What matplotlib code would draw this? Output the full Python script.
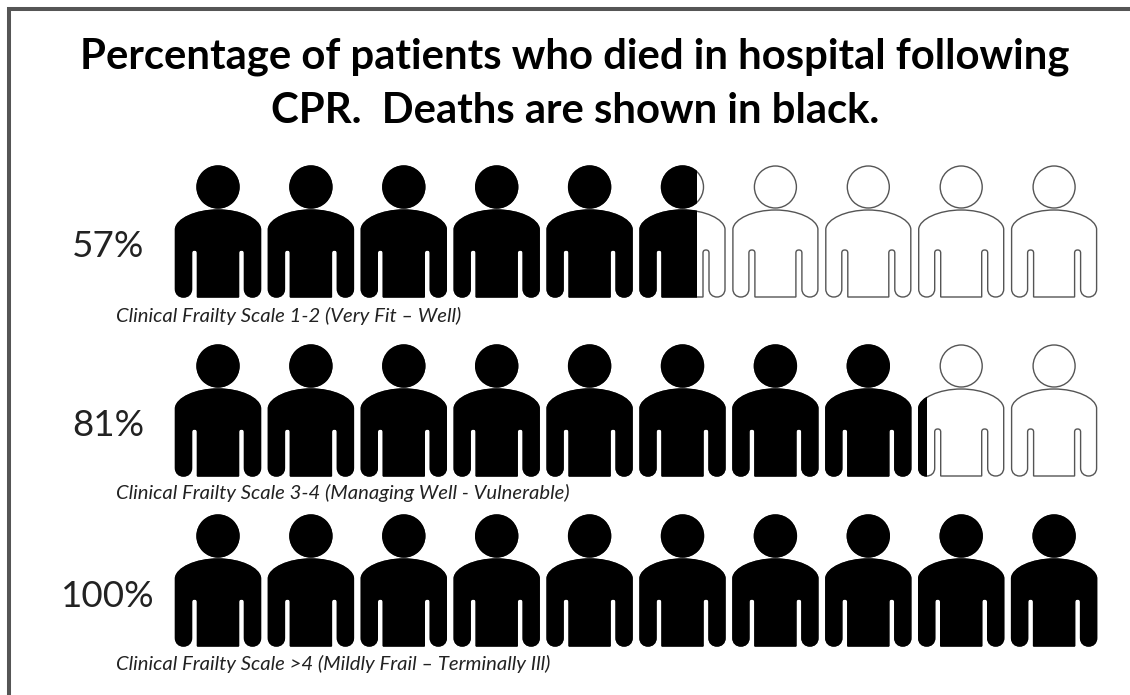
import numpy as np
import matplotlib
matplotlib.use("Agg")
import matplotlib.pyplot as plt
from matplotlib.path import Path
from matplotlib.patches import PathPatch, Circle, Rectangle

title_lines = ["Percentage of patients who died in hospital following",
               "CPR.  Deaths are shown in black."]
pct_labels = ["57%", "81%", "100%"]
filled_people = [5.67, 8.10, 10.0]
scale_labels = ["Clinical Frailty Scale 1-2 (Very Fit \u2013 Well)",
                "Clinical Frailty Scale 3-4 (Managing Well - Vulnerable)",
                "Clinical Frailty Scale >4 (Mildly Frail \u2013 Terminally Ill)"]
n_people = 10

W, H = 1130, 695
fig = plt.figure(figsize=(W/100, H/100), dpi=100, facecolor="white")
ax = fig.add_axes([0, 0, 1, 1])
ax.set_xlim(0, W); ax.set_ylim(H, 0); ax.axis("off")

# frame: only the top and left edges are visible
ax.plot([8.5, 8.5, W], [H, 8.5, 8.5], color="#555555", lw=2.9, solid_joinstyle="miter")

FONT = ["Lato", "DejaVu Sans"]
for t, y in zip(title_lines, [68, 123]):
    ax.text(575, y, t, ha="center", va="baseline", fontsize=30.2, fontweight="bold", family=FONT, color="black")

def body_path():
    k = Path.CURVE4; l = Path.LINETO; c = Path.CLOSEPOLY; m = Path.MOVETO
    v = [(0, 19), (1, 9), (20, 0), (42.5, 0), (65, 0), (84, 9), (85, 19),
         (85, 79), (85, 84), (81.5, 87), (77, 87), (72.5, 87), (69, 84), (69, 79),
         (69, 43), (69, 41), (68, 40), (66, 40), (64, 40), (63, 41), (63, 43),
         (63, 87), (22, 87),
         (22, 43), (22, 41), (21, 40), (19, 40), (17, 40), (16, 41), (16, 43),
         (16, 79), (16, 84), (12.5, 87), (8, 87), (3.5, 87), (0, 84), (0, 79),
         (0, 19)]
    codes = [m, k, k, k, k, k, k, l, k, k, k, k, k, k, l, k, k, k, k, k, k,
             l, l, l, k, k, k, k, k, k, l, k, k, k, k, k, k, c]
    return np.array(v, float), codes

BV, BC = body_path()
X0, DX = 175.5, 92.9
BODY_TOPS = [210, 389, 559]
LABEL_BASE = [257, 436, 607]
CAP_BASE = [322, 499, 670]
CAP_X = 116
HEAD_R = 21

for r, frac in enumerate(filled_people):
    top = BODY_TOPS[r]
    for i in range(n_people):
        x0 = X0 + i * DX
        body = Path(BV + [x0, top], BC)
        cx, cy = x0 + 42.5, top - 23
        fill = min(max(frac - i, 0), 1)
        ax.add_patch(PathPatch(body, fc="white", ec="#555555", lw=1.0))
        ax.add_patch(Circle((cx, cy), HEAD_R, fc="white", ec="#555555", lw=1.0))
        if fill > 0:
            clip = Rectangle((x0 - 2, top - 50), 85 * fill + 2 if fill < 1 else 90, 140, transform=ax.transData)
            b = PathPatch(body, fc="black", ec="black", lw=1.0)
            h = Circle((cx, cy), HEAD_R, fc="black", ec="black", lw=1.0)
            for p in (b, h):
                ax.add_patch(p)
                p.set_clip_path(clip)
    ax.text(108, LABEL_BASE[r], pct_labels[r], ha="center", va="baseline", fontsize=26.5, family=FONT, color="#222222")
    ax.text(CAP_X, CAP_BASE[r], scale_labels[r], ha="left", va="baseline", fontsize=14.6, style="italic", family=FONT, color="#222222")

fig.savefig("out.png", dpi=100, facecolor="white")
